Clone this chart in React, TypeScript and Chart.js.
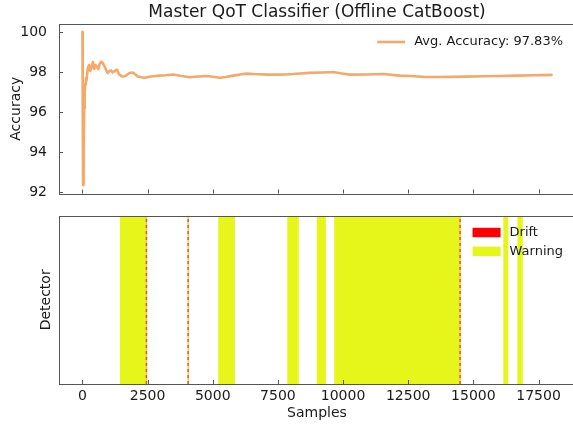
import React, { useEffect, useRef } from 'react';
import { Chart, registerables } from 'chart.js';

Chart.register(...registerables);

// ---------- data ----------
const chartTitle = 'Master QoT Classifier (Offline CatBoost)';
const avgAccuracyLabel = 'Avg. Accuracy: 97.83%';

const samples = [
  0, 12, 25, 40, 50, 65, 85, 110, 135, 160, 200, 250, 300, 350, 400, 450, 500, 560, 610, 660,
  720, 780, 845, 910, 972, 1030, 1098, 1160, 1229, 1280, 1329, 1380, 1421, 1520, 1613, 1700,
  1805, 1932, 2030, 2124, 2250, 2381, 2623, 2800, 2968, 3200, 3479, 3800, 4120, 4450, 4762,
  5000, 5273, 5500, 5783, 6050, 6298, 6550, 6809, 7100, 7450, 7800, 8088, 8345, 8729, 9200,
  9624, 9950, 10265, 10900, 11544, 12185, 12600, 13080, 13600, 14117, 14700, 15384, 16000,
  16666, 17300, 18000,
];
const accuracy = [
  100, 96.0, 92.35, 93.9, 93.7, 96.2, 97.0, 97.4, 97.7, 97.6, 98.15, 98.35, 98.05, 98.25, 98.5,
  98.15, 98.35, 98.25, 98.15, 98.4, 98.52, 98.45, 98.28, 98.1, 97.95, 98.05, 98.08, 97.98, 98.03,
  98.1, 98.12, 97.95, 97.87, 97.78, 97.79, 97.85, 97.95, 97.98, 97.88, 97.78, 97.74, 97.71, 97.78,
  97.8, 97.82, 97.84, 97.88, 97.8, 97.74, 97.78, 97.8, 97.76, 97.71, 97.75, 97.82, 97.88, 97.92,
  97.9, 97.89, 97.87, 97.87, 97.88, 97.9, 97.93, 97.96, 97.98, 98.0, 97.93, 97.87, 97.88, 97.9,
  97.82, 97.8, 97.76, 97.75, 97.76, 97.77, 97.79, 97.8, 97.82, 97.84, 97.86,
];

const warningStarts = [1430, 5210, 7860, 8990, 9660, 16150, 16690];
const warningEnds = [2455, 5850, 8300, 9340, 14490, 16340, 16900];
const driftSamples = [2455, 4055, 14490];

const xTickValues = [0, 2500, 5000, 7500, 10000, 12500, 15000, 17500];
const yTickValues = [92, 94, 96, 98, 100];

// ---------- style ----------
const FONT = "'DejaVu Sans', sans-serif";
const TEXT = '#1a1a1a';
const FRAME = '#555555';
const LINE_COLOR = '#f5a86a';
const WARN_COLOR = '#e6f51a';
const DRIFT_COLOR = '#ff0000';
const DRIFT_LINE = '#e0521f';
const DRIFT_UNDER = '#f0c84a';
const X_MIN = -900;
const X_MAX = 18900;

type LegendItem = { label: string; color: string; kind: 'line' | 'box' };

function makeFramePlugin(yTicks: boolean, legend: LegendItem[], legendTop: number, title?: string) {
  return {
    id: 'mplFrame',
    afterDatasetsDraw(chart: any) {
      const { ctx, chartArea: a } = chart;
      ctx.save();
      ctx.strokeStyle = FRAME;
      ctx.lineWidth = 1;
      const xs = chart.scales.x;
      ctx.beginPath();
      for (const v of xTickValues) {
        const px = Math.round(xs.getPixelForValue(v)) + 0.5;
        ctx.moveTo(px, a.bottom);
        ctx.lineTo(px, a.bottom - 4);
      }
      if (yTicks) {
        const ys = chart.scales.y;
        for (const v of yTickValues) {
          const py = Math.round(ys.getPixelForValue(v)) + 0.5;
          ctx.moveTo(a.left, py);
          ctx.lineTo(a.left + 4, py);
        }
      }
      ctx.stroke();
      ctx.strokeRect(Math.round(a.left) + 0.5, Math.round(a.top) + 0.5, Math.round(a.right - a.left), Math.round(a.bottom - a.top));

      // axes title, centred over the plotting area (matplotlib style)
      if (title) {
        ctx.font = `17px ${FONT}`;
        ctx.fillStyle = TEXT;
        ctx.textAlign = 'center';
        ctx.textBaseline = 'middle';
        ctx.fillText(title, (a.left + a.right) / 2, 12.2);
      }

      ctx.font = `13px ${FONT}`;
      ctx.textBaseline = 'middle';
      ctx.textAlign = 'left';
      let maxW = 0;
      for (const it of legend) maxW = Math.max(maxW, ctx.measureText(it.label).width);
      const textLeft = a.right - 12 - maxW;
      const handleRight = textLeft - 9;
      const handleLeft = handleRight - 28;
      legend.forEach((it, i) => {
        const cy = a.top + legendTop + i * 18.8;
        if (it.kind === 'line') {
          ctx.strokeStyle = it.color;
          ctx.lineWidth = 2.6;
          ctx.beginPath();
          ctx.moveTo(handleLeft, cy);
          ctx.lineTo(handleRight, cy);
          ctx.stroke();
        } else {
          ctx.fillStyle = it.color;
          ctx.fillRect(handleLeft, cy - 4.7, 28, 9.4);
        }
        ctx.fillStyle = TEXT;
        ctx.fillText(it.label, textLeft, cy);
      });
      ctx.restore();
    },
  };
}

const setXTicks = (s: any) => {
  s.ticks = xTickValues.map((v) => ({ value: v }));
};
const setYTicks = (s: any) => {
  s.ticks = yTickValues.map((v) => ({ value: v }));
};

export default function App() {
  const topRef = useRef<HTMLCanvasElement>(null);
  const botRef = useRef<HTMLCanvasElement>(null);

  useEffect(() => {
    const lineData = samples.map((s, i) => ({ x: s, y: accuracy[i] }));

    const top = new Chart(topRef.current as HTMLCanvasElement, {
      type: 'line',
      data: {
        datasets: [
          {
            label: avgAccuracyLabel,
            data: lineData,
            borderColor: LINE_COLOR,
            borderWidth: 2.6,
            pointRadius: 0,
            tension: 0,
            fill: false,
            borderJoinStyle: 'round',
            borderCapStyle: 'round',
          },
        ],
      },
      options: {
        animation: false,
        responsive: false,
        devicePixelRatio: 1,
        layout: { padding: { left: 0, right: 59, top: 24, bottom: 6.5 } },
        plugins: {
          legend: { display: false },
          tooltip: { enabled: false },
          title: { display: false },
        },
        scales: {
          x: {
            type: 'linear',
            min: X_MIN,
            max: X_MAX,
            afterBuildTicks: setXTicks,
            ticks: { display: false },
            grid: { display: false },
            border: { display: false },
            afterFit: (s: any) => {
              s.height = 0;
              s.paddingLeft = 0;
              s.paddingRight = 0;
            },
          },
          y: {
            type: 'linear',
            min: 91.93,
            max: 100.4,
            afterBuildTicks: setYTicks,
            ticks: { color: TEXT, font: { family: FONT, size: 14 }, padding: 4 },
            grid: { display: false },
            border: { display: false },
            afterFit: (s: any) => {
              s.width = 59;
              s.paddingTop = 0;
              s.paddingBottom = 0;
            },
            title: {
              display: true,
              text: 'Accuracy',
              color: TEXT,
              font: { family: FONT, size: 14 },
              padding: { top: 7.6, bottom: 0 },
            },
          },
        },
      },
      plugins: [makeFramePlugin(true, [{ label: avgAccuracyLabel, color: LINE_COLOR, kind: 'line' }], 18, chartTitle)],
    } as any);

    const warnData: { x: number; y: number }[] = [];
    warningStarts.forEach((s, i) => {
      warnData.push({ x: s, y: 0 }, { x: s, y: 1 }, { x: warningEnds[i], y: 1 }, { x: warningEnds[i], y: 0 });
    });
    const driftData: { x: number; y: number | null }[] = [];
    driftSamples.forEach((d) => {
      driftData.push({ x: d, y: 0 }, { x: d, y: 1 }, { x: d, y: null });
    });

    const bot = new Chart(botRef.current as HTMLCanvasElement, {
      type: 'line',
      data: {
        datasets: [
          {
            label: 'Drift',
            data: driftData,
            borderColor: DRIFT_LINE,
            borderWidth: 1.4,
            borderDash: [3, 3],
            pointRadius: 0,
            fill: false,
            spanGaps: false,
            order: 0,
          },
          {
            label: 'Drift underlay',
            data: driftData,
            borderColor: DRIFT_UNDER,
            borderWidth: 1.4,
            pointRadius: 0,
            fill: false,
            spanGaps: false,
            order: 1,
          },
          {
            label: 'Warning',
            data: warnData,
            borderWidth: 0,
            borderColor: 'rgba(0,0,0,0)',
            backgroundColor: WARN_COLOR,
            pointRadius: 0,
            fill: 'origin',
            tension: 0,
            order: 2,
          },
        ],
      },
      options: {
        animation: false,
        responsive: false,
        devicePixelRatio: 1,
        layout: { padding: { left: 0, right: 59, top: 15.7, bottom: 0 } },
        plugins: {
          legend: { display: false },
          tooltip: { enabled: false },
        },
        scales: {
          x: {
            type: 'linear',
            min: X_MIN,
            max: X_MAX,
            afterBuildTicks: setXTicks,
            ticks: {
              color: TEXT,
              font: { family: FONT, size: 14 },
              padding: -4,
              maxRotation: 0,
              autoSkip: false,
              callback: (v: any) => String(v),
            },
            grid: { display: false },
            border: { display: false },
            afterFit: (s: any) => {
              s.height = 43;
              s.paddingLeft = 0;
              s.paddingRight = 0;
            },
            title: {
              display: true,
              text: 'Samples',
              color: TEXT,
              font: { family: FONT, size: 14 },
              padding: { top: 0, bottom: 5 },
            },
          },
          y: {
            type: 'linear',
            min: 0,
            max: 1,
            ticks: { display: false },
            grid: { display: false },
            border: { display: false },
            afterFit: (s: any) => {
              s.width = 59;
              s.paddingTop = 0;
              s.paddingBottom = 0;
            },
            title: {
              display: true,
              text: 'Detector',
              color: TEXT,
              font: { family: FONT, size: 14 },
              padding: { top: 37.6, bottom: 0 },
            },
          },
        },
      },
      plugins: [
        makeFramePlugin(
          false,
          [
            { label: 'Drift', color: DRIFT_COLOR, kind: 'box' },
            { label: 'Warning', color: WARN_COLOR, kind: 'box' },
          ],
          16.8,
        ),
      ],
    } as any);

    return () => {
      top.destroy();
      bot.destroy();
    };
  }, []);

  return (
    <div
      style={{
        position: 'fixed',
        left: 0,
        top: 0,
        width: 573,
        height: 427,
        overflow: 'hidden',
        background: '#ffffff',
      }}
    >
      <div style={{ position: 'absolute', left: 0, top: 0 }}>
        <canvas ref={topRef} width={634} height={200} style={{ display: 'block' }} />
      </div>
      <div style={{ position: 'absolute', left: 0, top: 200 }}>
        <canvas ref={botRef} width={634} height={227} style={{ display: 'block' }} />
      </div>
    </div>
  );
}
